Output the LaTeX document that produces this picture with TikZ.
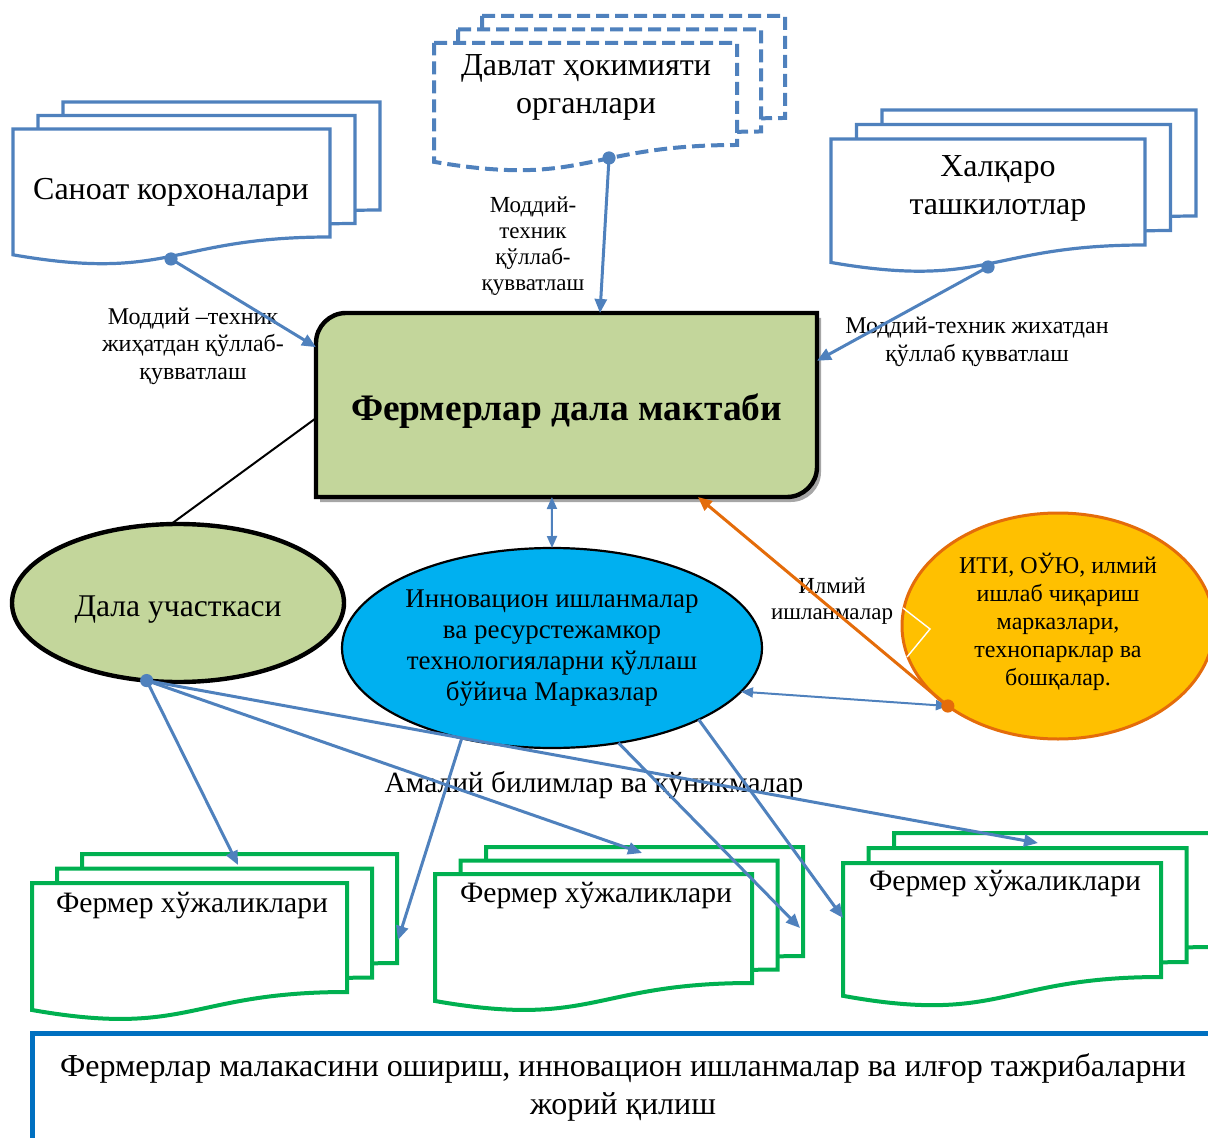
\documentclass[tikz,border=0pt]{standalone}
\usepackage{fontspec}
\setmainfont{Liberation Serif}
\usepackage{xcolor}
\usepackage{tikz}
\usetikzlibrary{arrows.meta,shapes.geometric}

\definecolor{docblue}{HTML}{4F81BD}
\definecolor{docgreen}{HTML}{00B050}
\definecolor{schoolgreen}{HTML}{C3D69B}
\definecolor{centrecyan}{HTML}{00B0F0}
\definecolor{itiyellow}{HTML}{FFC000}
\definecolor{itiorange}{HTML}{E46C0A}
\definecolor{boxblue}{HTML}{0070C0}
\definecolor{shadowgray}{HTML}{A6A6A6}

% one page: style, x, y (top left), width, depth of the right edge
\newcommand{\docpage}[5]{%
  \draw[#1,fill=white] ({#2},{#3}) -- ({#2+#4},{#3}) -- ({#2+#4},{#3+#5})
    .. controls ({#2+0.5*#4},{#3+#5}) and ({#2+0.5*#4},{#3+1.42*#5}) .. ({#2},{#3+1.165*#5}) -- cycle;}
% three pages: style, x, y, width, depth, shift right, shift up
\newcommand{\multidoc}[7]{%
  \docpage{#1}{#2+2*#6}{#3-2*#7}{#4}{#5}
  \docpage{#1}{#2+#6}{#3-#7}{#4}{#5}
  \docpage{#1}{#2}{#3}{#4}{#5}}
% move text up or down without changing the node
\newcommand{\nudge}[2]{\raisebox{#1}[\height][\depth]{#2}}

\begin{document}
\begin{tikzpicture}[x=0.5pt, y=-0.5pt,
  blueDoc/.style={draw=docblue, line width=1.6pt},
  dashDoc/.style={draw=docblue, line width=2pt, dash pattern=on 6.5pt off 3pt},
  greenDoc/.style={draw=docgreen, line width=2pt},
  docText/.style={align=center, inner sep=0pt, font=\fontsize{16}{19}\selectfont},
  farmText/.style={inner sep=0pt, font=\fontsize{14.8}{18}\selectfont},
  lbl/.style={align=center, inner sep=0pt, font=\fontsize{12}{13.8}\selectfont},
  link/.style={docblue, line width=1.5pt, -{Triangle[length=7pt,width=6pt]}},
  twoway/.style={docblue, line width=1pt, {Triangle[length=6pt,width=5pt]}-{Triangle[length=6pt,width=5pt]}}]
  \path[use as bounding box] (0,0) rectangle (1208,1138);
  \clip (0,0) rectangle (1208,1138);

  % document stacks
  \multidoc{blueDoc}{13}{129}{317}{108}{25}{13.5}
  \multidoc{dashDoc}{434}{43}{303}{102}{24}{13.5}
  \multidoc{blueDoc}{831}{139}{314}{106}{25.5}{14.5}
  \multidoc{greenDoc}{32}{883}{315}{109}{25}{14.5}
  \multidoc{greenDoc}{435}{874}{317}{109}{25.5}{13.5}
  \multidoc{greenDoc}{843}{863}{318}{114}{25.5}{15}

  \node[docText] (sanoat) at (171,192) {Саноат корхоналари};
  \node[docText] (davlat) at (586,87) {Давлат ҳокимияти\\органлари};
  \node[docText] (xalqaro) at (998,188) {Халқаро\\ташкилотлар};
  \node[farmText] (farmA) at (192,906) {Фермер хўжаликлари};
  \node[farmText] (farmB) at (596,896) {Фермер хўжаликлари};
  \node[farmText] (farmC) at (1005,884) {Фермер хўжаликлари};

  \coordinate (sanoat-dot) at (171,259);
  \coordinate (davlat-dot) at (609,158);
  \coordinate (xalqaro-dot) at (988,267);
  \coordinate (farmA-top) at (238,865);
  \coordinate (farmA-side) at (398,940);
  \coordinate (farmB-top) at (642,853);
  \coordinate (farmB-side) at (800,928);
  \coordinate (farmC-top) at (1038,843);
  \coordinate (farmC-side) at (843,918);

  % main box
  \fill[shadowgray, shift={(4,5)}] (316,497) -- (316,343) .. controls (316,326.5) and (329.5,313) .. (346,313)
    -- (817,313) -- (817,467) .. controls (817,483.5) and (803.5,497) .. (787,497) -- cycle;
  \draw[line width=2.2pt, fill=schoolgreen] (316,497) -- (316,343) .. controls (316,326.5) and (329.5,313) .. (346,313)
    -- (817,313) -- (817,467) .. controls (817,483.5) and (803.5,497) .. (787,497) -- cycle;
  \node[minimum width=250.5pt, minimum height=92pt, inner sep=0pt, outer sep=0pt,
    font=\bfseries\fontsize{18.7}{22}\selectfont] (school) at (566.5,405) {\nudge{-3pt}{Фермерлар дала мактаби}};

  % ellipses
  \node[ellipse, draw, line width=2.2pt, fill=schoolgreen, minimum width=166pt, minimum height=79pt,
    inner sep=0pt, outer sep=0pt, font=\fontsize{15.8}{18}\selectfont] (field) at (178,603)
    {\nudge{-3.5pt}{Дала участкаси}};
  \node[ellipse, draw, line width=1.1pt, fill=centrecyan, minimum width=210pt, minimum height=100pt,
    inner sep=0pt, outer sep=0pt, align=center, font=\fontsize{13.5}{15.5}\selectfont] (centre) at (552,648)
    {Инновацион ишланмалар\\ва ресурстежамкор\\технологияларни қўллаш\\бўйича Марказлар};
  \node[ellipse, draw=itiorange, line width=1.5pt, fill=itiyellow, minimum width=156pt, minimum height=113pt,
    inner sep=0pt, outer sep=0pt, font=\fontsize{12}{14}\selectfont] (iti) at (1058,626)
    {\nudge{2pt}{\parbox{100pt}{\centering ИТИ, ОЎЮ, илмий\\ишлаб чиқариш\\марказлари,\\технопарклар ва\\бошқалар.}}};
  \draw[white, line width=0.7pt] (903,608) -- (930,629) -- (907,657);

  % bottom box
  \draw[boxblue, line width=2.5pt] (32,1033) rectangle (1230,1160);
  \node[align=center, inner sep=0pt, font=\fontsize{16}{19}\selectfont] (goal) at (623,1087)
    {Фермерлар малакасини ошириш, инновацион ишланмалар ва илғор тажрибаларни\\жорий қилиш};

  % labels
  \node[lbl] (lblSanoat) at (193,346) {Моддий –техник\\жиҳатдан қўллаб-\\қувватлаш};
  \node[lbl, font=\fontsize{11.5}{13}\selectfont] (lblDavlat) at (533,246) {Моддий-\\техник\\қўллаб-\\қувватлаш};
  \node[lbl] (lblXalqaro) at (977,342) {Моддий-техник жихатдан\\қўллаб қувватлаш};
  \node[lbl, font=\fontsize{11.5}{13}\selectfont] (lblIlmiy) at (832,601) {Илмий\\ишланмалар};
  \node[lbl, font=\fontsize{14.7}{16}\selectfont] (lblAmaliy) at (594,785) {Амалий билимлар ва кўникмалар};

  % connectors
  \coordinate (field-dot) at (field.248.7);
  \coordinate (iti-dot) at (iti.216);
  \draw[link] (sanoat-dot) -- (school.167.6);
  \draw[link] (davlat-dot) -- (school.70);
  \draw[link] (xalqaro-dot) -- (school.10.6);
  \draw[twoway] (school.261) -- (centre.90);
  \draw[line width=1pt] (school.183) -- (field.95.8);
  \draw[link] (field-dot) -- (farmA-top);
  \draw[link] (field-dot) -- (farmB-top);
  \draw[link] (field-dot) -- (farmC-top);
  \draw[link] (centre.225.6) -- (farmA-side);
  \draw[link] (centre.305) -- (farmB-side);
  \draw[link] (centre.334.5) -- (farmC-side);
  \draw[twoway] (centre.347.4) -- (iti-dot);
  \draw[itiorange, line width=1.5pt, -{Triangle[length=7pt,width=6pt]}] (iti-dot) -- (school.325);

  \fill[docblue] (sanoat-dot) circle (3.3pt);
  \fill[docblue] (davlat-dot) circle (3.3pt);
  \fill[docblue] (xalqaro-dot) circle (3.3pt);
  \fill[docblue] (field-dot) circle (3.3pt);
  \fill[itiorange] (iti-dot) circle (3.3pt);
\end{tikzpicture}
\end{document}
